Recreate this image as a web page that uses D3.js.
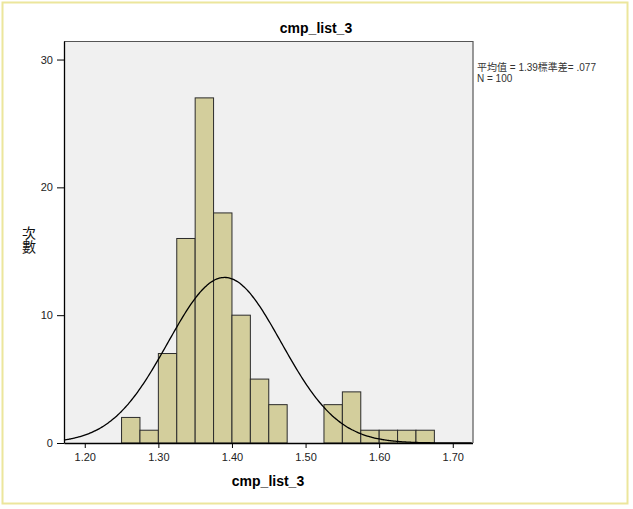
<!DOCTYPE html>
<html><head><meta charset="utf-8">
<script src="https://cdn.jsdelivr.net/npm/d3@7"></script>
<style>body{margin:0;background:#fff;}svg{display:block;}</style>
</head><body>
<script>
// Data
const binStarts = [1.25,1.275,1.30,1.325,1.35,1.375,1.40,1.425,1.45,1.475,1.50,1.525,1.55,1.575,1.60,1.625,1.65];
const counts    = [2,1,7,16,27,18,10,5,3,0,0,3,4,1,1,1,1];
const binWidth = 0.025;
const xTicks = [1.20,1.30,1.40,1.50,1.60,1.70];
const yTicks = [0,10,20,30];
const meanVal = 1.39, sdVal = 0.077, nVal = 100;

const W = 633, H = 509;
const svg = d3.select("body").append("svg").attr("width", W).attr("height", H);
const font = "'Liberation Sans', Arial, sans-serif";

// outer frame
svg.append("rect").attr("x",2.5).attr("y",2.5).attr("width",625).attr("height",501)
  .attr("fill","none").attr("stroke","#ece69c").attr("stroke-width",2);

const L = 64, R = 472.5, T = 41, B = 443;
const x = d3.scaleLinear().domain([1.1718, 1.7268]).range([L, R]);
const y = d3.scaleLinear().domain([0, 31.45]).range([B, T]);

svg.append("rect").attr("x",L).attr("y",T).attr("width",R-L).attr("height",B-T).attr("fill","#f0f0f0");

// bars
svg.append("g").selectAll("rect").data(binStarts.map((s,i)=>({s,c:counts[i]})).filter(d=>d.c>0))
  .enter().append("rect")
  .attr("x", d=>x(d.s)).attr("width", d=>x(d.s+binWidth)-x(d.s))
  .attr("y", d=>y(d.c)).attr("height", d=>y(0)-y(d.c))
  .attr("fill","#d3ce9c").attr("stroke","#2b2b2b").attr("stroke-width",1);

// normal curve
const k = nVal*binWidth/(sdVal*Math.sqrt(2*Math.PI));
const xs = d3.range(x.domain()[0], x.domain()[1]+1e-9, 0.002);
const line = d3.line().x(v=>x(v)).y(v=>y(k*Math.exp(-0.5*Math.pow((v-meanVal)/sdVal,2)))).curve(d3.curveBasis);
svg.append("path").datum(xs).attr("d", line).attr("fill","none").attr("stroke","#000").attr("stroke-width",1.3);

// plot frame: top/right gray
svg.append("path").attr("d",`M${L},${T+0.5}H${R+0.5}V${B}`).attr("fill","none").attr("stroke","#555").attr("stroke-width",1.2);

// axes
const xAxis = d3.axisBottom(x).tickValues(xTicks).tickFormat(d3.format(".2f")).tickSize(5).tickSizeOuter(0);
const gx = svg.append("g").attr("transform",`translate(0,${B})`).call(xAxis);
gx.select(".domain").attr("stroke","#000").attr("stroke-width",1.3);
gx.selectAll("text").attr("font-family",font).attr("font-size",11).attr("fill","#222").attr("dy","0.9em");

const yAxis = d3.axisLeft(y).tickValues(yTicks).tickSize(7).tickSizeOuter(0);
const gy = svg.append("g").attr("transform",`translate(${L},0)`).call(yAxis);
gy.select(".domain").attr("stroke","#000").attr("stroke-width",1.3);
gy.selectAll("text").attr("font-family",font).attr("font-size",11).attr("fill","#222").attr("dx","-0.1em");

// titles
svg.append("text").attr("x",316).attr("y",33).attr("text-anchor","middle")
  .attr("font-family",font).attr("font-weight","bold").attr("font-size",14).text("cmp_list_3");
svg.append("text").attr("x",268).attr("y",486).attr("text-anchor","middle")
  .attr("font-family",font).attr("font-weight","bold").attr("font-size",14).text("cmp_list_3");
svg.append("text").attr("x",29).attr("y",226)
  .attr("font-family","'Noto Sans CJK TC', sans-serif").attr("font-size",14).attr("fill","#111")
  .style("writing-mode","vertical-rl").text("次數");

// legend
const lg = svg.append("text").attr("font-family","'Liberation Sans', 'Noto Sans CJK TC', sans-serif").attr("font-size",10).attr("fill","#333");
lg.append("tspan").attr("x",477).attr("y",71).text("平均值 = 1.39標準差= .077");
lg.append("tspan").attr("x",477).attr("y",82).text("N = 100");
</script>
</body></html>
